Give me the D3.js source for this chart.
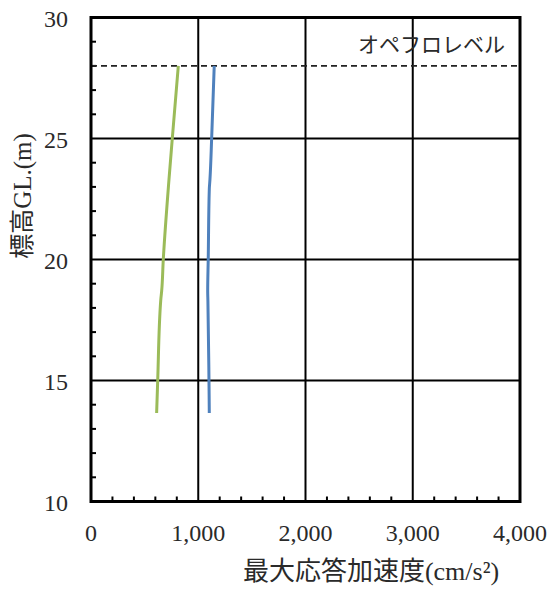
<!DOCTYPE html>
<html><head><meta charset="utf-8">
<script src="https://cdn.jsdelivr.net/npm/d3@7"></script>
<style>
html,body{margin:0;padding:0;background:#fff;}
</style></head>
<body>
<svg id="chart" width="552" height="590"></svg>
<script>
// Data: height (GL. m) vs peak response acceleration (cm/s^2)
const heights = [13.66, 15, 18.3, 18.7, 20, 22.9, 23.3, 25, 28];
const seriesGreen = [612, 622, 650, 659, 674, 720, 727, 758, 814];
const seriesBlue  = [1103, 1100, 1090, 1088, 1093, 1103, 1109, 1125, 1149];
const xTicks = [0, 1000, 2000, 3000, 4000];
const yTicks = [10, 15, 20, 25, 30];
const opeFloorLevel = 28;
const opeLabel = "オペフロレベル";
const xLabel = "最大応答加速度(cm/s²)";
const yLabel = "標高GL.(m)";

const FONT = "'Liberation Serif', 'DejaVu Serif', 'Times New Roman', 'Noto Sans CJK JP', serif";
const svg = d3.select("#chart");
const L = 91, R = 520, T = 17.5, B = 501.5;
const x = d3.scaleLinear().domain([0, 4000]).range([L, R]);
const y = d3.scaleLinear().domain([10, 30]).range([B, T]);

// grid
const g = svg.append("g");
g.selectAll("line.vg").data(xTicks.slice(1, -1)).join("line")
  .attr("x1", d => x(d)).attr("x2", d => x(d)).attr("y1", T).attr("y2", B)
  .attr("stroke", "#000").attr("stroke-width", 2);
g.selectAll("line.hg").data(yTicks.slice(1, -1)).join("line")
  .attr("x1", L).attr("x2", R).attr("y1", d => y(d)).attr("y2", d => y(d))
  .attr("stroke", "#000").attr("stroke-width", 2);

// minor ticks (inward)
const xMinor = d3.range(200, 4000, 200).filter(v => v % 1000 !== 0);
g.selectAll("line.xm").data(xMinor).join("line")
  .attr("x1", d => x(d)).attr("x2", d => x(d)).attr("y1", B).attr("y2", B - 5)
  .attr("stroke", "#000").attr("stroke-width", 2);
const yMinor = d3.range(11, 30, 1).filter(v => v % 5 !== 0);
g.selectAll("line.ym").data(yMinor).join("line")
  .attr("x1", L).attr("x2", L + 5).attr("y1", d => y(d)).attr("y2", d => y(d))
  .attr("stroke", "#000").attr("stroke-width", 2);

// dashed ope floor line
svg.append("line").attr("x1", L).attr("x2", R)
  .attr("y1", y(opeFloorLevel)).attr("y2", y(opeFloorLevel))
  .attr("stroke", "#222").attr("stroke-width", 1.8).attr("stroke-dasharray", "6,4");

const txt = svg.append("g").style("font-family", FONT).attr("fill", "#2a2a2a");
txt.append("text").attr("x", 505).attr("y", 52).attr("text-anchor", "end")
  .attr("font-size", 21).text(opeLabel);

// series
const line = d3.line().x(d => x(d[0])).y(d => y(d[1])).curve(d3.curveMonotoneY);
svg.append("path").datum(heights.map((h, i) => [seriesGreen[i], h]))
  .attr("d", line).attr("fill", "none").attr("stroke", "#9BBB59").attr("stroke-width", 3);
svg.append("path").datum(heights.map((h, i) => [seriesBlue[i], h]))
  .attr("d", line).attr("fill", "none").attr("stroke", "#4F81BD").attr("stroke-width", 3);

// frame
svg.append("rect").attr("x", L).attr("y", T).attr("width", R - L).attr("height", B - T)
  .attr("fill", "none").attr("stroke", "#000").attr("stroke-width", 3);

// tick labels
txt.selectAll("text.xt").data(xTicks).join("text").attr("class", "xt")
  .attr("x", d => x(d)).attr("y", 541).attr("text-anchor", "middle")
  .attr("font-size", 24).text(d => d3.format(",")(d));
txt.selectAll("text.yt").data(yTicks).join("text").attr("class", "yt")
  .attr("x", 68).attr("y", d => y(d) + 9).attr("text-anchor", "end")
  .attr("font-size", 24).text(d => d);

// axis titles
txt.append("text").attr("x", 371).attr("y", 580).attr("text-anchor", "middle")
  .attr("font-size", 26).text(xLabel);
txt.append("text").attr("transform", "translate(31,196) rotate(-90)")
  .attr("text-anchor", "middle").attr("font-size", 25).text(yLabel);
</script>
</body></html>
